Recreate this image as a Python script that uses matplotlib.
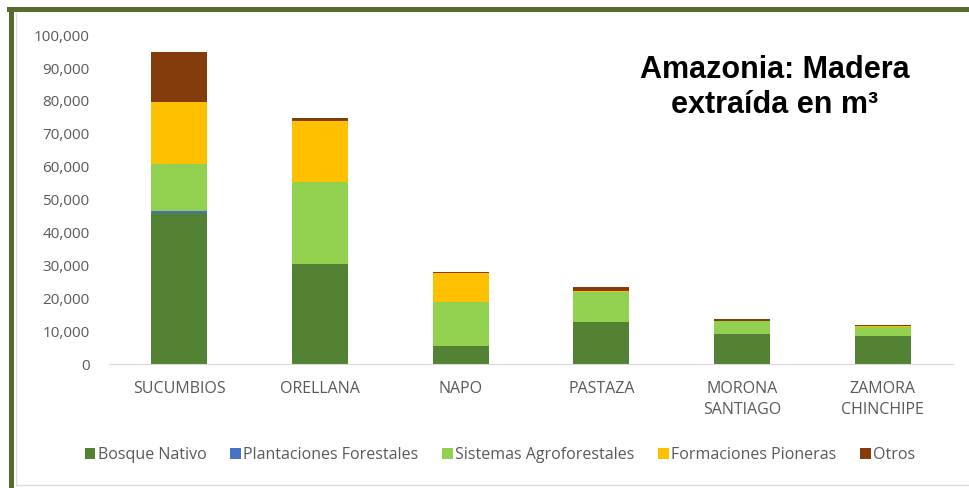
import numpy as np
import matplotlib.pyplot as plt
from matplotlib.lines import Line2D
from matplotlib.ticker import FuncFormatter

# data (m3)
provincias = ["SUCUMBIOS", "ORELLANA", "NAPO", "PASTAZA", "MORONA\nSANTIAGO", "ZAMORA\nCHINCHIPE"]
bosque_nativo = [45800, 30400, 5500, 12800, 9000, 8600]
plantaciones = [600, 0, 0, 0, 0, 0]
sistemas_agro = [14400, 24900, 13300, 9000, 4000, 2700]
formaciones = [18800, 18600, 8900, 500, 200, 200]
otros = [15200, 900, 300, 1000, 400, 300]

series = [
    ("Bosque Nativo", bosque_nativo, "#548235"),
    ("Plantaciones Forestales", plantaciones, "#4472C4"),
    ("Sistemas Agroforestales", sistemas_agro, "#92D050"),
    ("Formaciones Pioneras", formaciones, "#FFC000"),
    ("Otros", otros, "#843C0C"),
]

fig = plt.figure(figsize=(9.69, 4.88), dpi=100)
ax = fig.add_axes([0.1125, 0.254, 0.871, 0.674])

x = np.arange(len(provincias))
bottom = np.zeros(len(provincias))
for name, vals, col in series:
    ax.bar(x, vals, width=0.4, bottom=bottom, color=col, label=name)
    bottom += np.array(vals)

ax.set_xlim(-0.5, len(provincias) - 0.5)
ax.set_ylim(0, 100000)
ax.set_yticks(np.arange(0, 100001, 10000))
ax.yaxis.set_major_formatter(FuncFormatter(lambda v, p: f"{int(v):,}"))
ax.set_xticks(x)
ax.set_xticklabels(provincias, fontfamily="Open Sans", fontsize=11.5, color="#595959",
                   linespacing=1.42)
for lab in ax.get_yticklabels():
    lab.set_fontfamily("Open Sans")
    lab.set_fontsize(11)
    lab.set_color("#595959")
ax.tick_params(axis="y", length=0, pad=14)
ax.tick_params(axis="x", length=0, pad=12)
for s in ["top", "right", "left"]:
    ax.spines[s].set_visible(False)
ax.spines["bottom"].set_color("#D9D9D9")

ax.text(0.789, 0.84, "Amazonia: Madera\nextraída en m³", transform=ax.transAxes,
        ha="center", va="center", fontsize=22, fontweight="bold",
        fontfamily="Liberation Sans", linespacing=1.2)

leg = fig.legend(loc="center", bbox_to_anchor=(0.516, 0.067), ncol=5, frameon=False,
                 handlelength=0.65, handleheight=0.65, handletextpad=0.15,
                 columnspacing=1.5, prop={"family": "Open Sans", "size": 11.5})
for t in leg.get_texts():
    t.set_color("#595959")

# frame: dark green on left/top, light grey inner line
fig.add_artist(Line2D([0.0114, 0.0114], [0, 0.982], color="#556B2F", lw=3.6,
                      transform=fig.transFigure))
fig.add_artist(Line2D([0.0093, 1.0], [0.981, 0.981], color="#556B2F", lw=3.6,
                      transform=fig.transFigure))
fig.add_artist(Line2D([0.0165, 1.0], [0.006, 0.006], color="#DDDDDD", lw=1,
                      transform=fig.transFigure))
fig.add_artist(Line2D([0.0165, 0.0165], [0.006, 0.973], color="#DDDDDD", lw=1,
                      transform=fig.transFigure))

fig.savefig("out.png", dpi=100)
